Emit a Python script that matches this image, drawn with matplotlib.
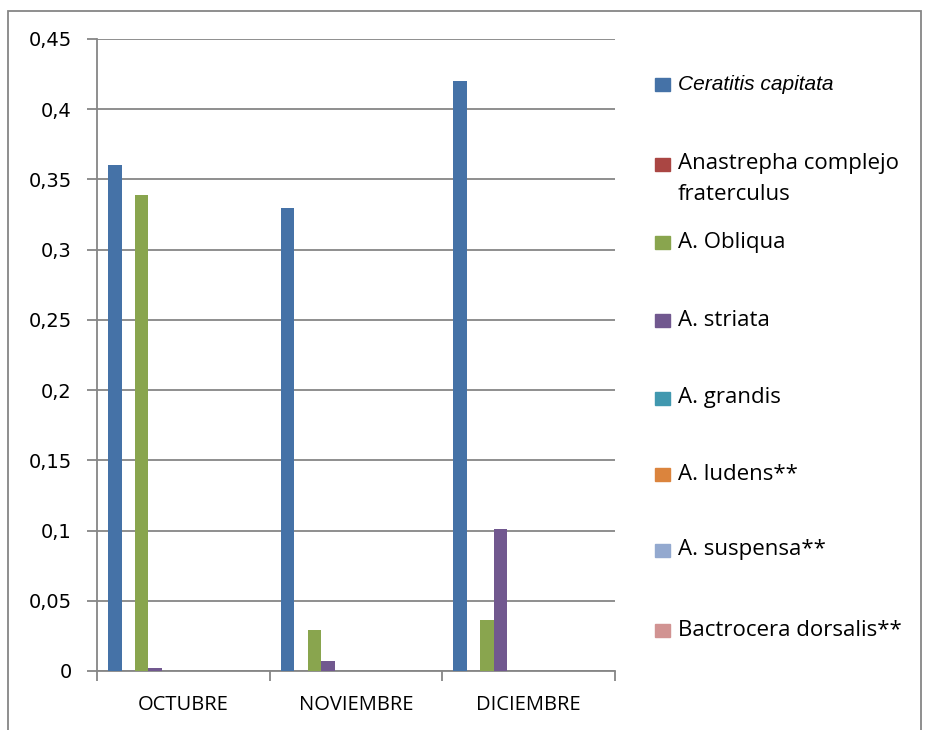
import matplotlib
matplotlib.use("Agg")
import matplotlib.pyplot as plt
import matplotlib.patches as mpatches
import numpy as np

months = ["OCTUBRE", "NOVIEMBRE", "DICIEMBRE"]
species = ["Ceratitis capitata", "Anastrepha complejo\nfraterculus", "A. Obliqua",
           "A. striata", "A. grandis", "A. ludens**", "A. suspensa**",
           "Bactrocera dorsalis**"]
ceratitis = [0.36, 0.33, 0.42]
fraterculus = [0.0, 0.0, 0.0]
obliqua = [0.339, 0.029, 0.036]
striata = [0.002, 0.007, 0.101]
grandis = [0.0, 0.0, 0.0]
ludens = [0.0, 0.0, 0.0]
suspensa = [0.0, 0.0, 0.0]
dorsalis = [0.0, 0.0, 0.0]
series = [ceratitis, fraterculus, obliqua, striata, grandis, ludens, suspensa, dorsalis]
colors = ["#4572A7", "#AA4643", "#89A54E", "#71588F", "#4198AF", "#DB843D",
          "#93A9CF", "#D19392"]
yticks = [0, 0.05, 0.1, 0.15, 0.2, 0.25, 0.3, 0.35, 0.4, 0.45]
ytick_labels = ["0", "0,05", "0,1", "0,15", "0,2", "0,25", "0,3", "0,35", "0,4", "0,45"]

W, H = 930, 730
fig = plt.figure(figsize=(W / 100, H / 100), dpi=100)
ax = fig.add_axes([97 / W, 1 - 671 / H, (615 - 97) / W, (671 - 39) / H])

grey = "#868686"
width = 0.078
start = 0.064
x = np.arange(len(months))
for i, vals in enumerate(series):
    ax.bar(x + start + i * width, vals, width=width, align="edge", color=colors[i],
           zorder=3)

ax.set_xlim(0, 3)
ax.set_ylim(0, 0.45)
ax.set_yticks(yticks)
ax.set_yticklabels(ytick_labels, family=["DejaVu Sans"], fontsize=14)
ax.yaxis.grid(True, color=grey, linewidth=1.3, zorder=0)
ax.set_xticks([0, 1, 2, 3])
ax.set_xticklabels([])
ax.set_xticks(x + 0.5, minor=True)
ax.set_xticklabels(months, minor=True, family=["Open Sans", "DejaVu Sans"], fontsize=14.5)
ax.tick_params(axis="x", which="major", length=7, color=grey, width=1.3)
ax.tick_params(axis="x", which="minor", length=0, pad=17)
ax.tick_params(axis="y", length=7, color=grey, width=1.3, pad=11)
for s in ["top", "right"]:
    ax.spines[s].set_visible(False)
for s in ["left", "bottom"]:
    ax.spines[s].set_color(grey)
    ax.spines[s].set_linewidth(1.3)

# legend entries
leg_y = [84, 164, 242, 320, 398, 474, 550, 630]
for i, name in enumerate(species):
    yc = 1 - leg_y[i] / H
    fig.add_artist(mpatches.Rectangle((655 / W, yc - 6.5 / H), 15 / W, 13 / H,
                                      transform=fig.transFigure, color=colors[i]))
    if i == 0:
        fig.text(678 / W, yc, name, fontsize=15, style="italic",
                 family="Liberation Sans", va="center", ha="left")
    else:
        lines = name.split("\n")
        for j, ln in enumerate(lines):
            fig.text(678 / W, yc - j * 31 / H, ln, fontsize=16,
                     family=["Open Sans", "DejaVu Sans"], va="center", ha="left")

# outer chart border
fig.add_artist(mpatches.Rectangle((8 / W, -0.02), (921 - 8) / W, 1 - 11 / H + 0.02,
                                  transform=fig.transFigure, fill=False,
                                  edgecolor=grey, linewidth=1.3))

fig.savefig("out.png", dpi=100)
